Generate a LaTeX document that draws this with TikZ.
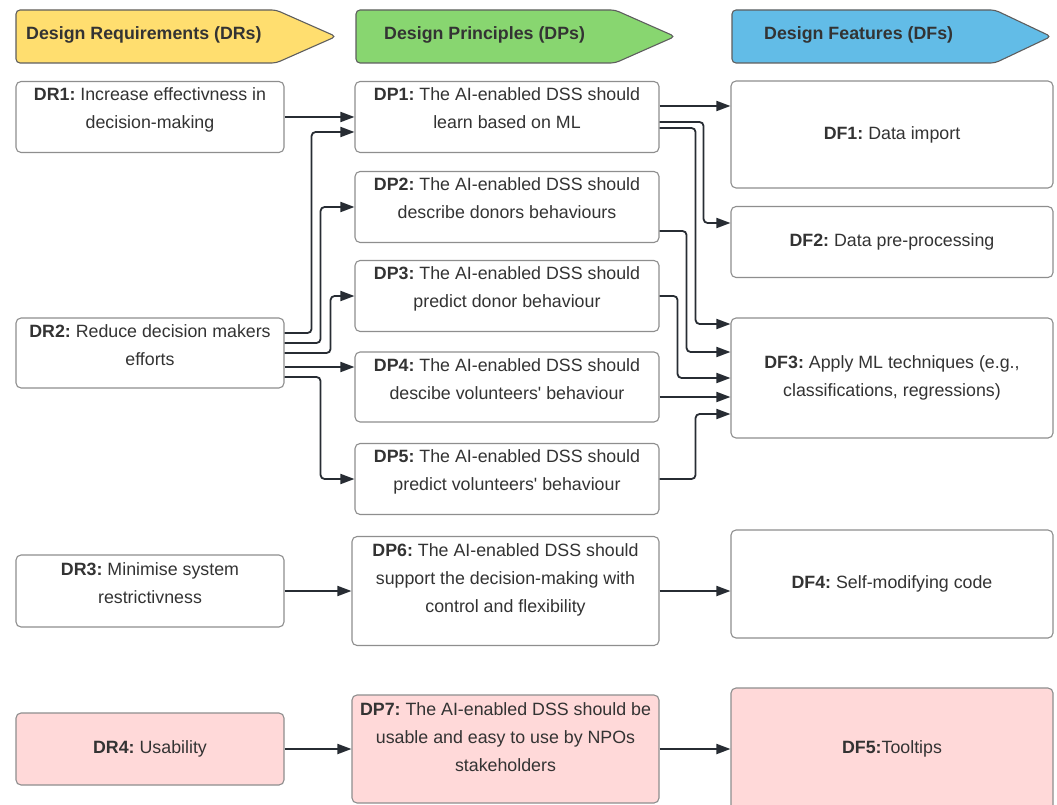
\documentclass[tikz,border=0pt]{standalone}
\usepackage{fontspec}
\setmainfont{Liberation Sans}
\usetikzlibrary{arrows.meta,calc}
\definecolor{hdrY}{HTML}{FFDE6F}
\definecolor{hdrG}{HTML}{88D670}
\definecolor{hdrB}{HTML}{62BCE7}
\definecolor{pinkfill}{HTML}{FFD9D9}
\definecolor{boxgray}{HTML}{8E8E8E}
\definecolor{hdrgray}{HTML}{5E5E5E}
\definecolor{textc}{HTML}{333333}
\definecolor{arrc}{HTML}{272C33}
\frenchspacing
\begin{document}
\begin{tikzpicture}[x=1pt,y=-1pt,
  box/.style={draw=boxgray, line width=1.1pt, rounded corners=5pt, fill=white, inner sep=0pt,
    font=\fontsize{17.8}{28}\selectfont, text=textc, align=center},
  pinkbox/.style={box, fill=pinkfill},
  drbox/.style={minimum width=268pt},
  dpbox/.style={minimum width=304pt},
  dfbox/.style={minimum width=322pt},
  txt/.style={font=\fontsize{17.8}{28}\selectfont, text=textc, align=center, inner sep=0pt, anchor=north},
  hdr/.style={font=\fontsize{17.8}{22}\selectfont\bfseries, text=textc, inner sep=0pt, anchor=west},
  hdrshape/.style={draw=hdrgray, line width=1.1pt, rounded corners=4pt},
  arr/.style={draw=arrc, line width=1.8pt, -{Triangle[length=14pt,width=10pt]}, rounded corners=4pt}]
\useasboundingbox (0,0) rectangle (1057,805);
\clip (0,0) rectangle (1057,805);

% headers
\draw[hdrshape, fill=hdrY] (16,10) -- (276,10) -- (336,36.5) -- (276,63) -- (16,63) -- cycle;
\draw[hdrshape, fill=hdrG] (356,10) -- (615,10) -- (675,36.5) -- (615,63) -- (356,63) -- cycle;
\draw[hdrshape, fill=hdrB] (732,10) -- (995,10) -- (1051,36.5) -- (995,63) -- (732,63) -- cycle;
\node[hdr] (h1) at (26,35) {Design Requirements (DRs)};
\node[hdr] (h2) at (384,35) {Design Principles (DPs)};
\node[hdr] (h3) at (764,35) {Design Features (DFs)};

% DR column
\node[box, drbox, minimum height=71pt] (dr1) at (150,117) {};
\node[txt] (dr1t) at ([yshift=-6pt]dr1.north) {\textbf{DR1:} Increase effectivness in\\decision-making};
\node[box, drbox, minimum height=70pt] (dr2) at (150,353) {};
\node[txt] (dr2t) at ([yshift=-6.5pt]dr2.north) {\textbf{DR2:} Reduce decision makers\\efforts};
\node[box, drbox, minimum height=72pt] (dr3) at (150,591) {};
\node[txt] (dr3t) at ([yshift=-7.5pt]dr3.north) {\textbf{DR3:} Minimise system\\restrictivness};
\node[pinkbox, drbox, minimum height=72pt] (dr4) at (150,749) {\textbf{DR4:} Usability};

% DP column
\node[box, dpbox, minimum height=71pt] (dp1) at (507,117) {};
\node[txt] (dp1t) at ([yshift=-6pt]dp1.north) {\textbf{DP1:} The AI-enabled DSS should\\learn based on ML};
\node[box, dpbox, minimum height=71pt] (dp2) at (507,207) {};
\node[txt] (dp2t) at ([yshift=-6pt]dp2.north) {\textbf{DP2:} The AI-enabled DSS should\\describe donors behaviours};
\node[box, dpbox, minimum height=71pt] (dp3) at (507,296) {};
\node[txt] (dp3t) at ([yshift=-6pt]dp3.north) {\textbf{DP3:} The AI-enabled DSS should\\predict donor behaviour};
\node[box, dpbox, minimum height=70pt] (dp4) at (507,387) {};
\node[txt] (dp4t) at ([yshift=-6.5pt]dp4.north) {\textbf{DP4:} The AI-enabled DSS should\\descibe volunteers\textquotesingle\ behaviour};
\node[box, dpbox, minimum height=71pt] (dp5) at (507,479) {};
\node[txt] (dp5t) at ([yshift=-6pt]dp5.north) {\textbf{DP5:} The AI-enabled DSS should\\predict volunteers\textquotesingle\ behaviour};
\node[box, minimum width=307pt, minimum height=109pt] (dp6) at (505.5,591) {};
\node[txt] (dp6t) at ([yshift=-7.5pt]dp6.north) {\textbf{DP6:} The AI-enabled DSS should\\support the decision-making with\\control and flexibility};
\node[pinkbox, minimum width=307pt, minimum height=108pt] (dp7) at (505.5,749) {};
\node[txt] (dp7t) at ([yshift=-7.5pt]dp7.north) {\textbf{DP7:} The AI-enabled DSS should be\\usable and easy to use by NPOs\\stakeholders};

% DF column
\node[box, dfbox, minimum height=107pt] (df1) at (892,134.5) {\textbf{DF1:} Data import};
\node[box, dfbox, minimum height=71pt] (df2) at (892,242) {\textbf{DF2:} Data pre-processing};
\node[box, dfbox, minimum height=120pt] (df3) at (892,378) {\textbf{DF3:} Apply ML techniques (e.g.,\\classifications, regressions)};
\node[box, dfbox, minimum height=108pt] (df4) at (892,584) {\textbf{DF4:} Self-modifying code};
\node[pinkbox, dfbox, minimum height=122pt] (df5) at (892,749) {\textbf{DF5:}Tooltips};

% DR -> DP
\draw[arr] (dr1.east) -- (dr1.east -| dp1.west);
\draw[arr] ([yshift=20pt]dr2.east) -- ++(27,0) |- ([yshift=-15pt]dp1.west);
\draw[arr] ([yshift=10pt]dr2.east) -- ++(36,0) |- (dp2.west);
\draw[arr] (dr2.east) -- ++(46,0) |- (dp3.west);
\draw[arr] ([yshift=-14pt]dr2.east) -- ([yshift=-14pt]dr2.east -| dp4.west);
\draw[arr] ([yshift=-24pt]dr2.east) -- ++(36,0) |- (dp5.west);
\draw[arr] (dr3.east) -- (dr3.east -| dp6.west);
\draw[arr] (dr4.east) -- (dr4.east -| dp7.west);

% DP -> DF
\draw[arr] ([yshift=11pt]dp1.east) -- ([yshift=11pt]dp1.east -| df1.west);
\draw[arr] ([yshift=-5pt]dp1.east) -- ++(44,0) |- ([yshift=19pt]df2.west);
\draw[arr] ([yshift=-11pt]dp1.east) -- ++(36,0) |- ([yshift=54pt]df3.west);
\draw[arr] ([yshift=-24pt]dp2.east) -- ++(27,0) |- ([yshift=26pt]df3.west);
\draw[arr] (dp3.east) -- ++(18,0) |- (df3.west);
\draw[arr] ([yshift=-10pt]dp4.east) -- ([yshift=-10pt]dp4.east -| df3.west);
\draw[arr] (dp5.east) -- ++(36,0) |- ([yshift=-36pt]df3.west);
\draw[arr] (dp6.east) -- (dp6.east -| df4.west);
\draw[arr] (dp7.east) -- (dp7.east -| df5.west);
\end{tikzpicture}
\end{document}
